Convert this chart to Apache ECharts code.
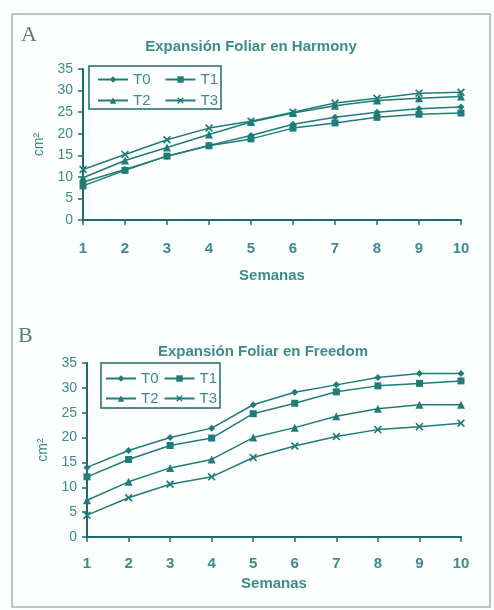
<!DOCTYPE html>
<html>
<head>
<meta charset="utf-8">
<script src="https://cdn.jsdelivr.net/npm/echarts@6/dist/echarts.min.js"></script>
<style>
html,body{margin:0;padding:0;background:#fdfefe;}
#c{width:494px;height:610px;}
</style>
</head>
<body>
<div id="c"></div>
<script>
var semanas = ['1','2','3','4','5','6','7','8','9','10'];
var seriesNames = ['T0','T1','T2','T3'];
var yTicks = [0,5,10,15,20,25,30,35];

// Panel A: Harmony
var harmonyT0 = [8.8, 11.7, 14.8, 17.3, 19.6, 22.2, 23.8, 25.0, 25.8, 26.2];
var harmonyT1 = [7.9, 11.5, 14.8, 17.2, 18.8, 21.3, 22.5, 23.8, 24.5, 24.8];
var harmonyT2 = [9.8, 13.8, 16.8, 19.8, 22.7, 24.8, 26.5, 27.7, 28.2, 28.6];
var harmonyT3 = [11.7, 15.2, 18.6, 21.3, 22.9, 25.0, 27.1, 28.2, 29.4, 29.6];

// Panel B: Freedom
var freedomT0 = [14.0, 17.4, 20.0, 21.9, 26.6, 29.1, 30.6, 32.1, 32.9, 32.9];
var freedomT1 = [12.1, 15.6, 18.4, 19.9, 24.8, 26.9, 29.2, 30.4, 30.9, 31.4];
var freedomT2 = [7.4, 11.1, 13.9, 15.6, 20.0, 22.0, 24.3, 25.8, 26.6, 26.6];
var freedomT3 = [4.4, 7.9, 10.6, 12.1, 16.0, 18.3, 20.2, 21.6, 22.2, 22.9];

var lineColor = '#1f7c78';
var axisColor = '#1e6c6a';
var labelColor = '#3a8d89';
var xPath = 'path://M0,1.5L1.5,0L5,3.5L8.5,0L10,1.5L6.5,5L10,8.5L8.5,10L5,6.5L1.5,10L0,8.5L3.5,5Z';
var symbols = {T0: ['diamond', 7], T1: ['rect', 7], T2: ['triangle', 8], T3: [xPath, 8]};

function mkSeries(name, data, idx) {
  return {
    name: name, type: 'line', data: data,
    xAxisIndex: idx, yAxisIndex: idx,
    symbol: symbols[name][0], symbolSize: symbols[name][1],
    lineStyle: {color: lineColor, width: 1.5},
    itemStyle: {color: lineColor},
    animation: false
  };
}

function mkX(gridIndex, margin, nameGap) {
  return {
    type: 'category', gridIndex: gridIndex, data: semanas, boundaryGap: false,
    name: 'Semanas', nameLocation: 'middle', nameGap: nameGap,
    nameTextStyle: {color: labelColor, fontSize: 15, fontWeight: 'bold', fontFamily: 'Liberation Sans'},
    axisLine: {lineStyle: {color: axisColor, width: 2}},
    axisTick: {alignWithLabel: true, length: 5, lineStyle: {color: axisColor, width: 1.5}},
    axisLabel: {color: labelColor, fontSize: 15, fontWeight: 'bold', fontFamily: 'Liberation Sans', margin: margin},
    splitLine: {show: false}
  };
}

function mkY(gridIndex) {
  return {
    type: 'value', gridIndex: gridIndex, min: yTicks[0], max: yTicks[yTicks.length-1], interval: 5,
    name: 'cm²', nameLocation: 'middle', nameRotate: 90, nameGap: 26,
    nameTextStyle: {color: labelColor, fontSize: 14, fontFamily: 'Liberation Sans'},
    axisLine: {show: true, lineStyle: {color: axisColor, width: 2}},
    axisTick: {show: true, length: 5, lineStyle: {color: axisColor, width: 1.5}},
    axisLabel: {color: labelColor, fontSize: 14, fontFamily: 'Liberation Sans', margin: 10},
    splitLine: {show: false}
  };
}

function mkLegend(names, left, top, gap) {
  return {
    data: names, left: left, top: top, orient: 'horizontal',
    itemWidth: 30, itemHeight: 8, itemGap: gap, padding: 0,
    textStyle: {color: labelColor, fontSize: 15, fontFamily: 'Liberation Sans'},
    selectedMode: false
  };
}

var chart = echarts.init(document.getElementById('c'));
chart.setOption({
  backgroundColor: '#fdfefe',
  title: [
    {text: 'Expansión Foliar en Harmony', left: 246, textAlign: 'center', top: 34,
     textStyle: {color: labelColor, fontSize: 15, fontWeight: 'bold', fontFamily: 'Liberation Sans'}},
    {text: 'Expansión Foliar en Freedom', left: 258, textAlign: 'center', top: 339,
     textStyle: {color: labelColor, fontSize: 15, fontWeight: 'bold', fontFamily: 'Liberation Sans'}}
  ],
  legend: [
    mkLegend(['T0','T1'], 97, 72, 14),
    mkLegend(['T2','T3'], 97, 93, 14),
    mkLegend(['T0','T1'], 105, 371, 5),
    mkLegend(['T2','T3'], 105, 391, 5)
  ],
  grid: [
    {left: 83, right: 33, top: 69, bottom: 390},
    {left: 87, right: 33, top: 363, bottom: 73}
  ],
  xAxis: [mkX(0, 21, 48), mkX(1, 19, 39)],
  yAxis: [mkY(0), mkY(1)],
  series: [
    mkSeries('T0', harmonyT0, 0), mkSeries('T1', harmonyT1, 0),
    mkSeries('T2', harmonyT2, 0), mkSeries('T3', harmonyT3, 0),
    mkSeries('T0', freedomT0, 1), mkSeries('T1', freedomT1, 1),
    mkSeries('T2', freedomT2, 1), mkSeries('T3', freedomT3, 1)
  ],
  graphic: [
    {type: 'rect', shape: {x: 12, y: 14, width: 478, height: 593},
     style: {fill: 'none', stroke: '#a3b2b0', lineWidth: 1.5}, silent: true},
    {type: 'rect', shape: {x: 89, y: 66, width: 132, height: 43},
     style: {fill: 'none', stroke: axisColor, lineWidth: 1.5}, silent: true},
    {type: 'rect', shape: {x: 101, y: 363, width: 119, height: 45},
     style: {fill: 'none', stroke: axisColor, lineWidth: 1.5}, silent: true},
    {type: 'text', left: 21, top: 24,
     style: {text: 'A', fill: '#557f7c', font: '22px "Liberation Serif"'}},
    {type: 'text', left: 18, top: 325,
     style: {text: 'B', fill: '#557f7c', font: '22px "Liberation Serif"'}}
  ]
});
</script>
</body>
</html>
